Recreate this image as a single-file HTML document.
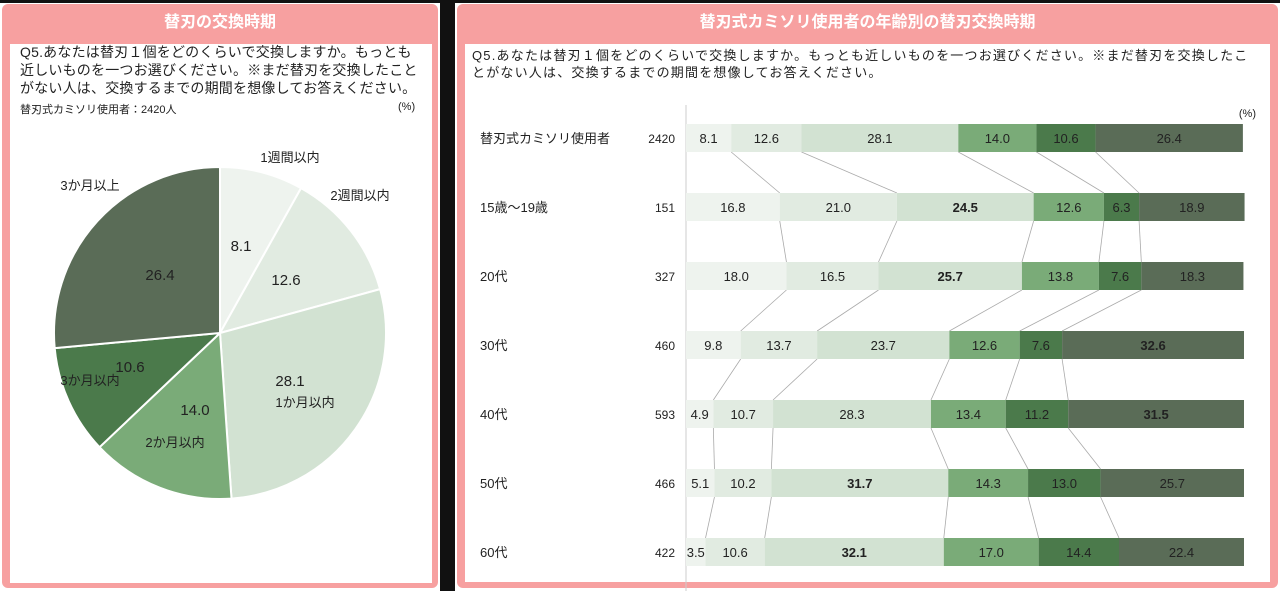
<!DOCTYPE html>
<html><head><meta charset="utf-8">
<style>
body{margin:0;width:1280px;height:591px;background:#fff;position:relative;overflow:hidden;font-family:"Liberation Sans","Noto Sans CJK JP",sans-serif;color:#222}
.abs{position:absolute}
.panel{position:absolute;background:#f7a0a0;border-radius:6px}
.hdr{position:absolute;left:0;right:0;top:0;height:38px;line-height:38px;text-align:center;color:#fff;font-weight:bold;font-size:16px}
.inner{position:absolute;background:#fff}
.q{position:absolute;font-size:14px;line-height:18px;color:#222;white-space:nowrap}
</style></head><body>
<div class="abs" style="left:0;top:0;width:1280px;height:3px;background:#111"></div>
<div class="abs" style="left:440px;top:0;width:15px;height:591px;background:#111"></div>

<div class="panel" style="left:2px;top:4px;width:436px;height:584px">
  <div class="hdr">替刃の交換時期</div>
  <div class="inner" style="left:8px;top:40px;width:422px;height:539px"></div>
</div>
<div class="q" style="left:20px;top:43px;letter-spacing:0.2px">Q5.あなたは替刃１個をどのくらいで交換しますか。もっとも<br>近しいものを一つお選びください。※まだ替刃を交換したこと<br>がない人は、交換するまでの期間を想像してお答えください。</div>
<div class="abs" style="left:20px;top:101px;font-size:11px">替刃式カミソリ使用者：2420人</div>
<div class="abs" style="left:398px;top:101px;font-size:11px">(%)</div>

<div class="panel" style="left:457px;top:4px;width:821px;height:584px">
  <div class="hdr">替刃式カミソリ使用者の年齢別の替刃交換時期</div>
  <div class="inner" style="left:8px;top:40px;width:805px;height:538px"></div>
</div>
<div class="q" style="left:472px;top:47px;font-size:13px;line-height:17px;letter-spacing:1.2px">Q5.あなたは替刃１個をどのくらいで交換しますか。もっとも近しいものを一つお選びください。※まだ替刃を交換したこ<br>とがない人は、交換するまでの期間を想像してお答えください。</div>

<svg class="abs" style="left:0;top:0" width="1280" height="591" id="chart"></svg>
<script>
const pieLabels=["1週間以内","2週間以内","1か月以内","2か月以内","3か月以内","3か月以上"];
const pieValues=[8.1,12.6,28.1,14.0,10.6,26.4];
const colors=["#eef3ee","#e1ebe1","#d2e2d2","#7aab78","#4b7a4b","#5a6c57"];
const rowLabels=["替刃式カミソリ使用者","15歳～19歳","20代","30代","40代","50代","60代"];
const rowN=["2420","151","327","460","593","466","422"];
const r0=[8.1,12.6,28.1,14.0,10.6,26.4];
const r1=[16.8,21.0,24.5,12.6,6.3,18.9];
const r2=[18.0,16.5,25.7,13.8,7.6,18.3];
const r3=[9.8,13.7,23.7,12.6,7.6,32.6];
const r4=[4.9,10.7,28.3,13.4,11.2,31.5];
const r5=[5.1,10.2,31.7,14.3,13.0,25.7];
const r6=[3.5,10.6,32.1,17.0,14.4,22.4];
const rows=[r0,r1,r2,r3,r4,r5,r6];
const NS="http://www.w3.org/2000/svg";
const svg=document.getElementById('chart');
function mk(t,a){const e=document.createElementNS(NS,t);for(const k in a)e.setAttribute(k,a[k]);svg.appendChild(e);return e;}
const cx=220,cy=333,R=166;
const pieLabelPos=[[290,162],[360,200],[305,407],[175,447],[90,385],[90,190]];
const pieValuePos=[[241,251],[286,285],[290,386],[195,415],[130,372],[160,280]];
const pieTot=pieValues.reduce((a,b)=>a+b,0);
let ang=0;
pieValues.forEach((v,i)=>{
  const a0=ang/pieTot*2*Math.PI, a1=(ang+v)/pieTot*2*Math.PI; ang+=v;
  const x0=cx+R*Math.sin(a0),y0=cy-R*Math.cos(a0),x1=cx+R*Math.sin(a1),y1=cy-R*Math.cos(a1);
  const p=mk('path',{d:`M${cx},${cy}L${x0},${y0}A${R},${R} 0 ${a1-a0>Math.PI?1:0} 1 ${x1},${y1}Z`,fill:colors[i],stroke:'#fff','stroke-width':2});
  
  
  const t=mk('text',{x:pieValuePos[i][0],y:pieValuePos[i][1],'text-anchor':'middle','font-size':15,fill:'#222'});
  t.textContent=v.toFixed(1);
  
  
  const l=mk('text',{x:pieLabelPos[i][0],y:pieLabelPos[i][1],'text-anchor':'middle','font-size':13,fill:'#222'});
  l.textContent=pieLabels[i];
  
  
});
const bx0=686,bw=558,bh=28,yTop=138,yStep=69;
const X=v=>bx0+v/100*bw;
const Y=i=>yTop+i*yStep;
const ax=mk('line',{x1:bx0,y1:105,x2:bx0,y2:591,stroke:'#ccc','stroke-width':1});


const u=mk('text',{x:1256,y:117,'text-anchor':'end','font-size':11,fill:'#222'});u.textContent='(%)';


rows.forEach((row,i)=>{
  if(i<rows.length-1){
    let c0=0,c1=0;
    for(let k=0;k<5;k++){c0+=row[k];c1+=rows[i+1][k];
      const ln=mk('line',{x1:X(c0),y1:Y(i)+bh/2,x2:X(c1),y2:Y(i+1)-bh/2,stroke:'#aaa','stroke-width':0.8});
      
      }
  }
  const lb=mk('text',{x:480,y:Y(i)+5,'font-size':13,fill:'#222'});lb.textContent=rowLabels[i];
  
  
  const nt=mk('text',{x:675,y:Y(i)+5,'text-anchor':'end','font-size':12,fill:'#222'});nt.textContent=rowN[i];
  
  
  const mx=Math.max(...row);
  let c=0;
  row.forEach((v,k)=>{
    const r=mk('rect',{x:X(c),y:Y(i)-bh/2,width:X(c+v)-X(c),height:bh,fill:colors[k]});
    
    
    const t=mk('text',{x:(X(c)+X(c+v))/2,y:Y(i)+5,'text-anchor':'middle','font-size':13,fill:'#222','font-weight':(i>0&&v===mx)?'bold':'normal'});
    t.textContent=v.toFixed(1);
    
    
    c+=v;
  });
});
</script>
</body></html>
